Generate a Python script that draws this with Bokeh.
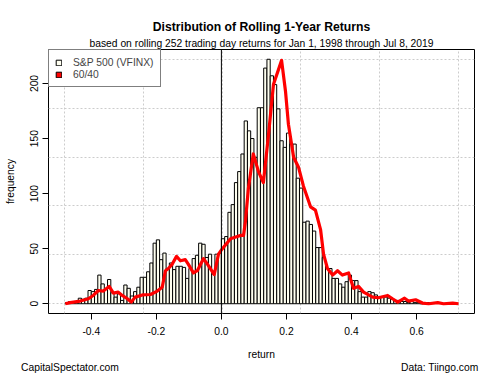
import math
from bokeh.plotting import figure
from bokeh.layouts import column
from bokeh.models import (ColumnDataSource, FixedTicker, Label, Legend, LegendItem,
                          Span, Range1d, BasicTickFormatter, Title)
from bokeh.embed import file_html
from bokeh.resources import INLINE

FONT = "Liberation Sans"

# ---------------- data ----------------
bin_width = 0.01
first_bin_left = -0.48
sp500_counts = [
    1, 2, 2, 2, 5, 4, 5, 12, 11, 13,
    26, 18, 13, 22, 10, 6, 9, 3, 17, 14,
    7, 11, 15, 24, 24, 29, 37, 55, 58, 40,
    46, 32, 37, 31, 34, 34, 33, 23, 32, 41,
    44, 55, 54, 42, 45, 27, 45, 46,
    59, 61, 83, 90, 110, 120, 136, 166, 157, 150,
    133, 178, 178, 214, 222, 207, 199, 177, 148, 142,
    155, 145, 145, 114, 105, 74, 75, 72, 66, 51,
    51, 42, 32, 32, 23, 23, 18, 15, 20, 26,
    21, 21, 11, 6, 6, 11, 10, 8, 6, 6,
    6, 5, 4, 3, 3, 2, 2, 1, 2, 1,
    1, 0, 1, 1,
]
sp500_left = [round(first_bin_left + i * bin_width, 2) for i in range(len(sp500_counts))]
sp500_right = [round(v + bin_width, 2) for v in sp500_left]

mix_returns = [
    -0.480, -0.465, -0.434, -0.409, -0.394, -0.378, -0.363, -0.345, -0.332, -0.317,
    -0.305, -0.289, -0.277, -0.265, -0.243, -0.218, -0.197, -0.182, -0.172, -0.163,
    -0.151, -0.138, -0.126, -0.111, -0.102, -0.086, -0.074, -0.055, -0.043, -0.022,
    -0.009, 0.003, 0.028, 0.058, 0.068, 0.074, 0.083, 0.098, 0.114, 0.129,
    0.145, 0.160, 0.185, 0.197, 0.206, 0.222, 0.237, 0.252, 0.274, 0.289,
    0.305, 0.314, 0.326, 0.342, 0.357, 0.372, 0.391, 0.406, 0.422, 0.437,
    0.465, 0.483, 0.511, 0.526, 0.542, 0.563, 0.575, 0.597, 0.618, 0.637,
    0.665, 0.683, 0.711, 0.729,
]
mix_counts = [
    0, 1, 2.4, 4.5, 7.5, 12, 11.5, 15.7, 9.6, 10.5,
    7.5, 4.5, 1.5, 6, 8, 8.4, 11.5, 15, 30, 32,
    36, 43, 39, 40, 36, 28, 30, 41, 36, 26.5,
    45, 50, 59, 62, 62, 75, 105, 136, 120, 110,
    154, 199, 221, 193, 163, 133, 124, 107, 88, 85,
    67, 45, 32, 26, 30, 26, 28, 14, 15.7, 10.5,
    6, 5.4, 7.5, 4.5, 1.5, 5, 2.4, 3.6, 0.6, 0,
    1, 0, 0.6, 0,
]

x_ticks = [-0.4, -0.2, 0.0, 0.2, 0.4, 0.6]
x_tick_labels = ["-0.4", "-0.2", "0.0", "0.2", "0.4", "0.6"]
y_ticks = [0, 50, 100, 150, 200]
y_tick_labels = ["0", "50", "100", "150", "200"]

title_text = "Distribution of Rolling 1-Year Returns"
subtitle_text = "based on rolling 252 trading day returns for Jan 1, 1998 through Jul 8, 2019"
x_label = "return"
y_label = "frequency"
left_note = "CapitalSpectator.com"
right_note = "Data: Tiingo.com"
series_names = ["S&P 500 (VFINX)", "60/40"]

# data limits (R style: range + 4 %)
x_lo, x_hi = -0.483, 0.7295
y_lo, y_hi = 0, 222
pad = 0.04
xr = Range1d(x_lo - pad * (x_hi - x_lo), x_hi + pad * (x_hi - x_lo))
yr = Range1d(y_lo - pad * (y_hi - y_lo), y_hi + pad * (y_hi - y_lo))

# layout in the 500x375 window: main chart on top, a thin footer strip below
W, H = 500, 375
FOOT_H = 13
MAIN_H = H - FOOT_H
F_LEFT, F_RIGHT, F_TOP, F_BOTTOM = 48, 474, 49, 313

p = figure(width=W, height=MAIN_H, x_range=xr, y_range=yr,
           output_backend="svg", toolbar_location=None,
           min_border_left=F_LEFT, min_border_right=W - F_RIGHT,
           min_border_top=F_TOP, min_border_bottom=MAIN_H - F_BOTTOM,
           background_fill_color="white", border_fill_color="white")
p.frame_align = False
p.outline_line_color = "black"
p.outline_line_width = 1
p.outline_line_alpha = 1

# titles (subtitle first: it sits nearest the frame)
p.add_layout(Title(text=subtitle_text, align="center", text_font=FONT,
                   text_font_size="10.3px", text_font_style="normal",
                   text_color="black", standoff=2), "above")
p.add_layout(Title(text=title_text, align="center", text_font=FONT,
                   text_font_size="12.2px", text_font_style="bold",
                   text_color="black", standoff=2), "above")

# grid: equally spaced over data range (like R's grid over the limits)
n_grid = 5
p.xgrid.ticker = FixedTicker(ticks=[x_lo + k * (x_hi - x_lo) / n_grid for k in range(n_grid + 1)])
p.ygrid.ticker = FixedTicker(ticks=[y_lo + k * (y_hi - y_lo) / n_grid for k in range(n_grid + 1)])
for g in (p.xgrid, p.ygrid):
    g.grid_line_color = "#cccccc"
    g.grid_line_dash = "2 2"
    g.grid_line_width = 1

# axes
for ax in (p.xaxis, p.yaxis):
    ax.axis_line_color = None
    ax.major_tick_line_color = "black"
    ax.major_tick_out = 6
    ax.major_tick_in = 0
    ax.minor_tick_line_color = None
    ax.major_label_text_font = FONT
    ax.major_label_text_font_size = "10.3px"
    ax.major_label_text_color = "black"
    ax.axis_label_text_font = FONT
    ax.axis_label_text_font_size = "10.3px"
    ax.axis_label_text_font_style = "normal"
    ax.axis_label_text_color = "black"
p.xaxis.ticker = FixedTicker(ticks=x_ticks)
p.xaxis.formatter = BasicTickFormatter(precision=1)
p.xaxis.major_label_overrides = dict(zip(x_ticks, x_tick_labels))
p.xaxis.major_label_standoff = 7
p.xaxis.axis_label = x_label
p.xaxis.axis_label_standoff = 11
p.yaxis.ticker = FixedTicker(ticks=y_ticks)
p.yaxis.major_label_overrides = dict(zip(y_ticks, y_tick_labels))
p.yaxis.major_label_orientation = "vertical"
p.yaxis.major_label_standoff = 4
p.yaxis.axis_label = y_label
p.yaxis.axis_label_standoff = 12

# zero line
p.add_layout(Span(location=0, dimension="height", line_color="black", line_width=1))

# histogram
src = ColumnDataSource(dict(left=sp500_left, right=sp500_right,
                            top=sp500_counts, bottom=[0] * len(sp500_counts)))
bars = p.quad(left="left", right="right", top="top", bottom="bottom", source=src,
              fill_color="#FFFFF0", line_color="black", line_width=1)

# 60/40 line
p.line(mix_returns, mix_counts, line_color="red", line_width=3.2, line_join="round")

# zero-size proxy (first 60/40 point) that only provides the red legend swatch
swatch = p.quad(left=mix_returns[:1], right=mix_returns[:1],
                top=mix_counts[:1], bottom=mix_counts[:1],
                fill_color="red", line_color="black", line_width=1)

legend = Legend(items=[LegendItem(label=series_names[0], renderers=[bars]),
                       LegendItem(label=series_names[1], renderers=[swatch])],
                location="top_left", margin=0, padding=6, spacing=0,
                glyph_width=7, glyph_height=7, label_height=12, label_standoff=11,
                label_text_font=FONT, label_text_font_size="10.3px",
                border_line_color="black", border_line_width=1,
                background_fill_color="white", background_fill_alpha=1)
p.add_layout(legend)

# footer strip with the source notes (its frame spans the whole strip)
foot = figure(width=W, height=FOOT_H, x_range=Range1d(0, W), y_range=Range1d(0, FOOT_H),
              x_axis_type=None, y_axis_type=None, output_backend="svg",
              toolbar_location=None, min_border=0,
              background_fill_color="white", border_fill_color="white")
foot.frame_align = False
foot.outline_line_color = None
foot.grid.visible = False
note_y = H - 366.5  # vertical centre of the notes, measured from the window bottom
foot.add_layout(Label(x=20.5, y=note_y, text=left_note, text_font=FONT,
                      text_font_size="10.3px", text_align="left",
                      text_baseline="middle", text_color="black"))
foot.add_layout(Label(x=478, y=note_y, text=right_note, text_font=FONT,
                      text_font_size="10.3px", text_align="right",
                      text_baseline="middle", text_color="black"))

layout = column(p, foot, spacing=0)
open("out.html", "w").write(file_html(layout, INLINE))
